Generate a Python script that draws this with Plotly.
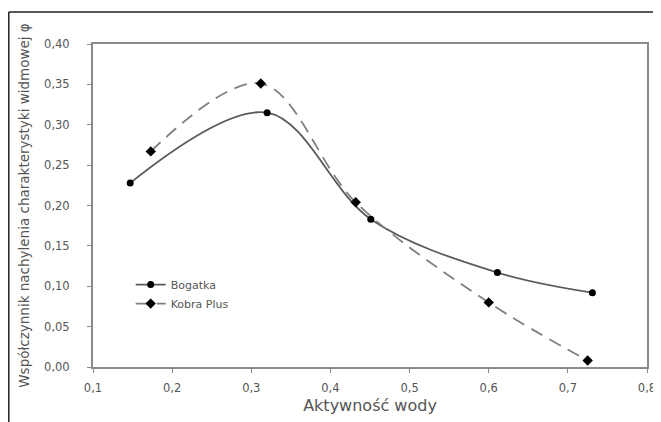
import plotly.graph_objects as go

bogatka_x = [0.147, 0.320, 0.451, 0.611, 0.731]
bogatka_y = [0.228, 0.315, 0.183, 0.117, 0.092]
kobra_x = [0.173, 0.312, 0.432, 0.600, 0.725]
kobra_y = [0.267, 0.351, 0.204, 0.080, 0.008]
x_ticks = [0.1, 0.2, 0.3, 0.4, 0.5, 0.6, 0.7, 0.8]
y_ticks = [0.0, 0.05, 0.10, 0.15, 0.20, 0.25, 0.30, 0.35, 0.40]

FONT = "DejaVu Sans, Arial"

fig = go.Figure()
fig.add_trace(go.Scatter(
    x=bogatka_x, y=bogatka_y, name="Bogatka", mode="lines+markers",
    line=dict(color="#5a5a5a", width=1.8, shape="spline", smoothing=1.0),
    marker=dict(color="black", size=7, symbol="circle")))
fig.add_trace(go.Scatter(
    x=kobra_x, y=kobra_y, name="Kobra Plus", mode="lines+markers",
    line=dict(color="#808080", width=1.8, dash="13px,8px", shape="spline", smoothing=1.0),
    marker=dict(color="black", size=8, symbol="diamond")))

axis_common = dict(showline=True, linecolor="#8a8a8a", linewidth=2, mirror=True,
                   ticks="outside", ticklen=4, tickcolor="#8a8a8a", showgrid=False,
                   zeroline=False, automargin=False,
                   tickfont=dict(family=FONT, size=11.5, color="#555555"))

# page body has an 8px default margin, so the figure is sized/offset to compensate
fig.update_layout(
    width=653, height=414,
    margin=dict(l=85, r=14, t=36, b=55),
    paper_bgcolor="white", plot_bgcolor="white",
    separators=", ",
    font=dict(family=FONT, color="#555555"),
    xaxis=dict(range=[0.1, 0.8], tickvals=x_ticks, tickformat=".1f", ticklabelstandoff=5,
               title=dict(text="Aktywność wody", font=dict(size=16), standoff=6), **axis_common),
    yaxis=dict(range=[0, 0.40], tickvals=y_ticks, tickformat=".2f", ticklabelstandoff=15,
               title=dict(text="Współczynnik nachylenia charakterystyki widmowej φ",
                          font=dict(size=13.5), standoff=11),
               **axis_common),
    legend=dict(x=0.068, y=0.30, xanchor="left", yanchor="top", bgcolor="rgba(0,0,0,0)",
                font=dict(size=11, color="#555555"), tracegroupgap=0),
    showlegend=True,
    shapes=[
        dict(type="line", xref="paper", yref="paper", x0=-0.152, x1=1.05, y0=1.099, y1=1.099,
             line=dict(color="#222222", width=1.5)),
        dict(type="line", xref="paper", yref="paper", x0=-0.152, x1=-0.152, y0=1.099, y1=-0.2,
             line=dict(color="#222222", width=1.5)),
    ],
)

fig.write_html("out.html")
